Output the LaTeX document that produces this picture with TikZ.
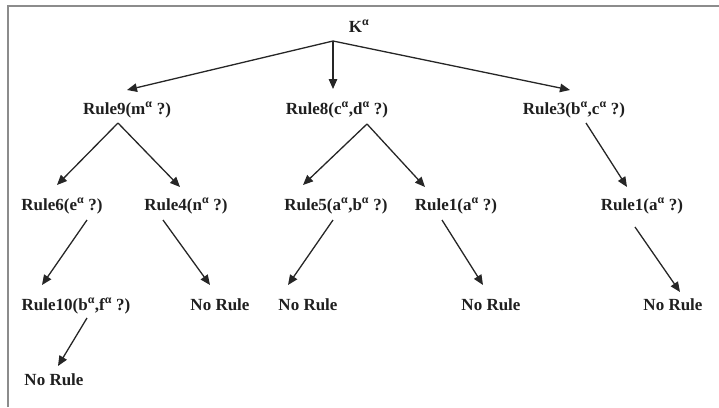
\documentclass[tikz,border=0pt]{standalone}
\usepackage{fontspec}
\setmainfont{Liberation Serif}
\usetikzlibrary{arrows.meta}

\newcommand{\al}{\textsuperscript{α}}

\begin{document}
\begin{tikzpicture}[x=1pt, y=-1pt, >={Triangle[length=10pt,width=8.5pt]},
    every node/.style={font=\fontsize{17}{20}\selectfont\bfseries, inner sep=0pt, anchor=base, text=black!88}]
    \tikzstyle{link}=[->, line width=1.3pt, draw=black!85]
    \tikzstyle{frame}=[line width=2pt, draw=black!45]

    \useasboundingbox (0,0) rectangle (719,407);
    \draw[frame] (8,407) |- (719,6);

    % root
    \node (k) at (359,32) {K\al};

    % first level
    \node (r9) at (127,114) {Rule9(m\al{} ?)};
    \node (r8) at (337,114) {Rule8(c\al,d\al{} ?)};
    \node (r3) at (574,114) {Rule3(b\al,c\al{} ?)};
    \draw[link] ([xshift=-26pt,yshift=-9pt]k.base) -- ([yshift=24pt]r9.base);
    \draw[link] ([xshift=-26pt,yshift=-9pt]k.base) -- ([xshift=-4pt,yshift=25pt]r8.base);
    \draw[link] ([xshift=-26pt,yshift=-9pt]k.base) -- ([xshift=-4pt,yshift=24pt]r3.base);

    % second level
    \node (r6) at (62,210) {Rule6(e\al{} ?)};
    \node (r4) at (186,210) {Rule4(n\al{} ?)};
    \node (r5) at (336,210) {Rule5(a\al,b\al{} ?)};
    \node (r1a) at (456,210) {Rule1(a\al{} ?)};
    \node (r1b) at (642,210) {Rule1(a\al{} ?)};
    \draw[link] ([xshift=-9pt,yshift=-9pt]r9.base) -- ([xshift=-5pt,yshift=25pt]r6.base);
    \draw[link] ([xshift=-9pt,yshift=-9pt]r9.base) -- ([xshift=-6pt,yshift=23pt]r4.base);
    \draw[link] ([xshift=30pt,yshift=-10pt]r8.base) -- ([xshift=-33pt,yshift=25pt]r5.base);
    \draw[link] ([xshift=30pt,yshift=-10pt]r8.base) -- ([xshift=-31pt,yshift=23pt]r1a.base);
    \draw[link] ([xshift=12pt,yshift=-9pt]r3.base) -- ([xshift=-15pt,yshift=23pt]r1b.base);

    % third level
    \node (r10) at (76,310) {Rule10(b\al,f\al{} ?)};
    \node (n4) at (220,310) {No Rule};
    \node (n5) at (308,310) {No Rule};
    \node (n1a) at (491,310) {No Rule};
    \node (n1b) at (673,310) {No Rule};
    \draw[link] ([xshift=25pt,yshift=-10pt]r6.base) -- ([xshift=-34pt,yshift=25pt]r10.base);
    \draw[link] ([xshift=-23pt,yshift=-10pt]r4.base) -- ([xshift=-10pt,yshift=25pt]n4.base);
    \draw[link] ([xshift=-3pt,yshift=-10pt]r5.base) -- ([xshift=-20pt,yshift=25pt]n5.base);
    \draw[link] ([xshift=-14pt,yshift=-10pt]r1a.base) -- ([xshift=-8pt,yshift=25pt]n1a.base);
    \draw[link] ([xshift=-7pt,yshift=-17pt]r1b.base) -- ([xshift=7pt,yshift=18pt]n1b.base);

    % last level
    \node (n10) at (54,385) {No Rule};
    \draw[link] ([xshift=11pt,yshift=-8pt]r10.base) -- ([xshift=4pt,yshift=19pt]n10.base);
\end{tikzpicture}
\end{document}
